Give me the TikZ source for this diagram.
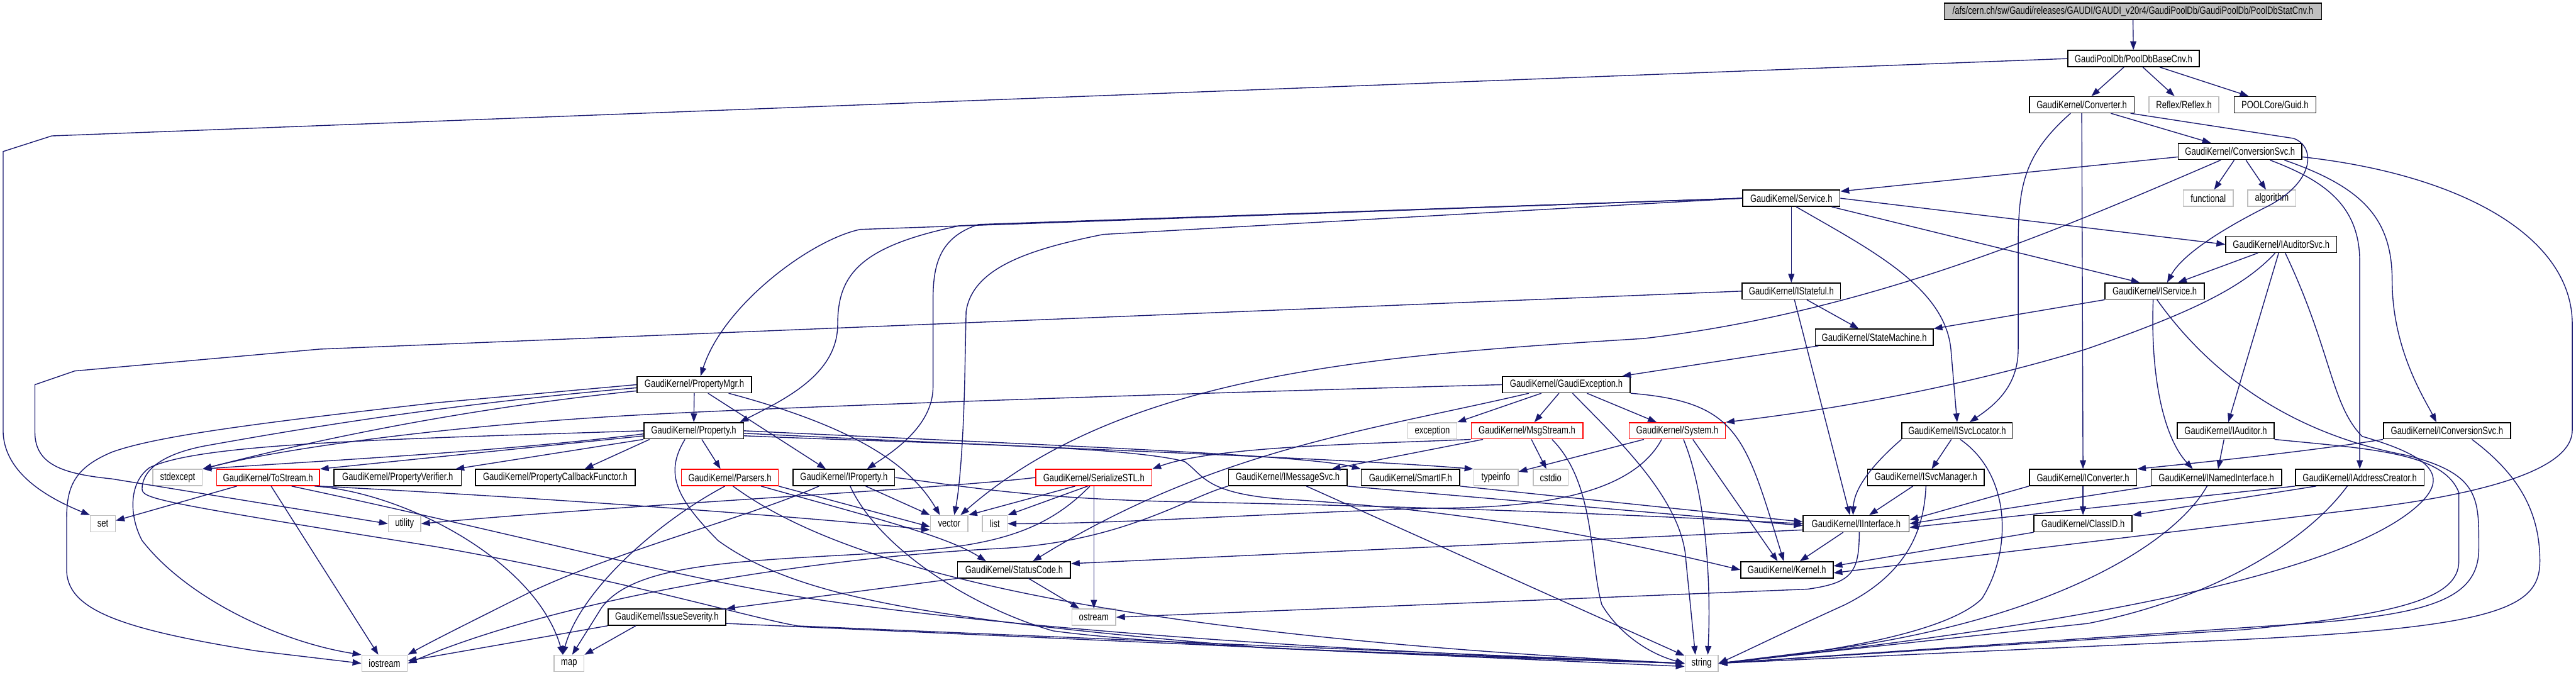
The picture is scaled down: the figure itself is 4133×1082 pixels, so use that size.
\documentclass[tikz,border=0pt]{standalone}
\usepackage{fontspec}
\newfontfamily\dotfont{Liberation Sans}[FakeStretch=0.78]
\usetikzlibrary{arrows.meta}
\definecolor{edgeblue}{RGB}{25,25,112}
\definecolor{sysgray}{RGB}{191,191,191}

\begin{document}
\begin{tikzpicture}[x=0.01cm,y=-0.01cm]
\tikzstyle{H}=[draw=black,line width=0.45pt,minimum height=0.26cm,inner sep=0pt,
font=\dotfont\fontsize{4.8}{5.5}\selectfont]
\tikzstyle{S}=[H,draw=sysgray]
\tikzstyle{R}=[H,draw=red]
\tikzstyle{L}=[draw=edgeblue,line width=0.4pt,-{Triangle[length=0.14cm,width=0.1cm]}]
\useasboundingbox (0,0) rectangle (4133,1082);

% top of the include tree
\node[H,fill=sysgray,minimum width=6.05cm] (root) at (3422,18) {/afs/cern.ch/sw/Gaudi/releases/GAUDI/GAUDI\_v20r4/GaudiPoolDb/GaudiPoolDb/PoolDbStatCnv.h};
\node[H,minimum width=2.11cm] (pbase) at (3423,94) {GaudiPoolDb/PoolDbBaseCnv.h};
\node[H,minimum width=1.68cm] (conv) at (3340,168) {GaudiKernel/Converter.h};
\node[S,minimum width=1.12cm] (reflex) at (3504,168) {Reflex/Reflex.h};
\node[H,minimum width=1.31cm] (guid) at (3650,168) {POOLCore/Guid.h};
\node[H,minimum width=1.98cm] (convsvc) at (3594,243) {GaudiKernel/ConversionSvc.h};
\node[S,minimum width=0.80cm] (functional) at (3543,318) {functional};
\node[S,minimum width=0.77cm] (algorithm) at (3645,318) {algorithm};
\node[H,minimum width=1.56cm] (service) at (2874,318) {GaudiKernel/Service.h};
\node[H,minimum width=1.78cm] (iaudsvc) at (3660,392) {GaudiKernel/IAuditorSvc.h};
\node[H,minimum width=1.58cm] (istateful) at (2874,467) {GaudiKernel/IStateful.h};
\node[H,minimum width=1.59cm] (iservice) at (3457,467) {GaudiKernel/IService.h};
\node[H,minimum width=1.89cm] (statem) at (3007,541) {GaudiKernel/StateMachine.h};
% middle rows
\node[H,minimum width=1.84cm] (propmgr) at (1114,617) {GaudiKernel/PropertyMgr.h};
\node[H,minimum width=2.05cm] (gexc) at (2513,617) {GaudiKernel/GaudiException.h};
\node[H,minimum width=1.60cm] (prop) at (1113,691) {GaudiKernel/Property.h};
\node[S,minimum width=0.79cm] (exception) at (2298,691) {exception};
\node[R,minimum width=1.79cm] (msgstream) at (2450,691) {GaudiKernel/MsgStream.h};
\node[R,minimum width=1.54cm] (system) at (2691,691) {GaudiKernel/System.h};
\node[H,minimum width=1.77cm] (isvcloc) at (3140,691) {GaudiKernel/ISvcLocator.h};
\node[H,minimum width=1.55cm] (iauditor) at (3571,691) {GaudiKernel/IAuditor.h};
\node[H,minimum width=2.04cm] (iconvsvc) at (3926,691) {GaudiKernel/IConversionSvc.h};
\node[S,minimum width=0.79cm] (stdexcept) at (285,766) {stdexcept};
\node[R,minimum width=1.65cm] (tostream) at (430,766) {GaudiKernel/ToStream.h};
\node[H,minimum width=2.04cm] (propverif) at (638,766) {GaudiKernel/PropertyVerifier.h};
\node[H,minimum width=2.56cm] (propcb) at (891,766) {GaudiKernel/PropertyCallbackFunctor.h};
\node[R,minimum width=1.55cm] (parsers) at (1171,766) {GaudiKernel/Parsers.h};
\node[H,minimum width=1.63cm] (iprop) at (1354,766) {GaudiKernel/IProperty.h};
\node[R,minimum width=1.86cm] (sstl) at (1755,766) {GaudiKernel/SerializeSTL.h};
\node[H,minimum width=1.90cm] (imsgsvc) at (2066,766) {GaudiKernel/IMessageSvc.h};
\node[H,minimum width=1.58cm] (smartif) at (2263,766) {GaudiKernel/SmartIF.h};
\node[S,minimum width=0.71cm] (typeinfo) at (2400,766) {typeinfo};
\node[S,minimum width=0.56cm] (cstdio) at (2488,766) {cstdio};
\node[H,minimum width=1.87cm] (isvcmgr) at (3090,766) {GaudiKernel/ISvcManager.h};
\node[H,minimum width=1.72cm] (iconv) at (3342,766) {GaudiKernel/IConverter.h};
\node[H,minimum width=2.09cm] (inamed) at (3556,766) {GaudiKernel/INamedInterface.h};
\node[H,minimum width=2.06cm] (iaddr) at (3786,766) {GaudiKernel/IAddressCreator.h};
% bottom rows
\node[S,minimum width=0.40cm] (set) at (165,840) {set};
\node[S,minimum width=0.52cm] (utility) at (649,840) {utility};
\node[S,minimum width=0.60cm] (vector) at (1523,840) {vector};
\node[S,minimum width=0.40cm] (list) at (1596,840) {list};
\node[H,minimum width=1.70cm] (iiface) at (2978,840) {GaudiKernel/IInterface.h};
\node[H,minimum width=1.57cm] (classid) at (3342,840) {GaudiKernel/ClassID.h};
\node[H,minimum width=1.81cm] (statcode) at (1627,914) {GaudiKernel/StatusCode.h};
\node[H,minimum width=1.48cm] (kernel) at (2867,914) {GaudiKernel/Kernel.h};
\node[S,minimum width=0.70cm] (ostream) at (1755,990) {ostream};
\node[H,minimum width=1.89cm] (issue) at (1070,990) {GaudiKernel/IssueSeverity.h};
\node[S,minimum width=0.73cm] (iostream) at (617,1064) {iostream};
\node[S,minimum width=0.48cm] (map) at (913,1064) {map};
\node[S,minimum width=0.53cm] (string) at (2730,1064) {string};

% PoolDb files
\draw[L] (root) -- (pbase);
\draw[L] (pbase) -- (conv);
\draw[L] (pbase) -- (reflex);
\draw[L] (pbase) -- (guid);
\draw[L] (pbase.west) -- (83,218) -- (5,243) -- (5,690) .. controls (5,760) and (80,800) .. (set.north west);
% Converter.h
\draw[L] (conv) -- (convsvc);
\draw[L] (conv.-10) -- (3680,222) .. controls (3715,235) and (3715,290) .. (3640,330) .. controls (3560,370) and (3500,410) .. ([xshift=0.2cm]iservice.north);
\draw[L] (conv.south) -- (iconv.north);
\draw[L] ([xshift=-0.18cm]conv.south) .. controls (3245,250) and (3238,300) .. (3238,400) -- (3238,560) .. controls (3238,620) and (3200,650) .. ([xshift=0.2cm]isvcloc.north);
% ConversionSvc.h
\draw[L] (convsvc.-175) -- (service.8);
\draw[L] ([xshift=-0.31cm]convsvc.south) .. controls (3300,370) and (3000,500) .. (2637,543) .. controls (2200,570) and (1800,600) .. ([xshift=0.18cm]vector.north);
\draw[L] (convsvc) -- (functional);
\draw[L] (convsvc) -- (algorithm);
\draw[L] ([xshift=0.48cm]convsvc.south) .. controls (3730,290) and (3786,330) .. (3786,420) -- (iaddr.north);
\draw[L] ([xshift=0.71cm]convsvc.south) .. controls (3790,300) and (3838,350) .. (3838,450) .. controls (3838,560) and (3890,640) .. ([xshift=-0.17cm]iconvsvc.north);
\draw[L] (convsvc.-5) .. controls (3950,280) and (4127,380) .. (4127,520) -- (4127,690) .. controls (4127,750) and (4000,790) .. (3800,815) -- ([yshift=-0.05cm]kernel.east);
% Service.h
\draw[L] (service) -- (istateful);
\draw[L] (service.-60) .. controls (3000,400) and (3120,460) .. (3130,560) -- (isvcloc.north);
\draw[L] (service.east) -- (iaudsvc.west);
\draw[L] (service.-12) -- (iservice.150);
\draw[L] (service.west) -- (1380,368) .. controls (1300,385) and (1160,490) .. ([xshift=0.1cm]propmgr.north);
\draw[L] (service.west) -- (1540,362) .. controls (1380,395) and (1344,440) .. (1344,520) .. controls (1344,600) and (1260,640) .. ([xshift=-0.07cm]prop.north east);
\draw[L] (service.west) -- (1570,360) .. controls (1510,380) and (1497,420) .. (1497,480) -- (1497,620) .. controls (1497,680) and (1440,720) .. ([xshift=0.37cm]iprop.north);
\draw[L] (service.west) -- (1770,376) .. controls (1650,400) and (1560,430) .. (1550,500) -- (1548,600) .. controls (1546,700) and (1540,780) .. ([xshift=0.08cm]vector.north);
% IAuditorSvc.h
\draw[L] (iaudsvc) -- (iservice);
\draw[L] (iaudsvc.-125) .. controls (3600,460) and (3520,500) .. (3347,560) .. controls (3200,605) and (3000,650) .. (system.north east);
\draw[L] (iaudsvc) -- (iauditor);
\draw[L] (iaudsvc.-65) .. controls (3740,560) and (3740,650) .. (3790,700) .. controls (3895,730) and (3925,760) .. (3890,800) .. controls (3800,900) and (3450,990) .. (string.east);
% IService.h
\draw[L] (iservice.south west) -- (statem.north east);
\draw[L] (iservice.-100) .. controls (3450,600) and (3470,700) .. ([xshift=-0.38cm]inamed.north);
\draw[L] (iservice.-75) .. controls (3560,620) and (3700,700) .. (3860,730) .. controls (3980,760) and (3977,800) .. (3977,880) .. controls (3977,960) and (3900,985) .. (3700,1000) -- (string.east);
% IStateful.h
\draw[L] (istateful) -- (statem);
\draw[L] ([xshift=0.05cm]istateful.south) -- ([xshift=-0.1cm]iiface.north);
\draw[L] (istateful.west) -- (513,560) -- (120,595) -- (56,617) -- (56,693) .. controls (56,745) and (100,760) .. (179,768) -- (utility.west);
\draw[L] (statem) -- (gexc);
% PropertyMgr.h
\draw[L] (propmgr) -- (prop);
\draw[L] ([xshift=0.22cm]propmgr.south) -- ([xshift=-0.29cm]iprop.north);
\draw[L] ([xshift=0.55cm]propmgr.south) .. controls (1372,685) and (1460,745) .. ([xshift=-0.15cm]vector.north);
\draw[L] (propmgr.west) -- (700,646) .. controls (400,680) and (250,700) .. (180,725) .. controls (120,750) and (107,780) .. (107,830) -- (107,917) .. controls (110,980) and (200,1010) .. (411,1044) -- (iostream.west);
\draw[L] ([yshift=-0.05cm]propmgr.west) .. controls (700,650) and (470,690) .. (330,715) .. controls (250,730) and (228,760) .. (228,784) .. controls (228,800) and (250,805) .. (700,877) .. controls (1000,930) and (1200,990) .. (1280,1004) -- (string.west);
\draw[L] ([yshift=-0.1cm]propmgr.west) .. controls (700,660) and (450,720) .. (stdexcept.north east);
% Property.h
\draw[L] (prop.west) .. controls (600,705) and (320,712) .. (240,750) .. controls (205,775) and (208,830) .. (228,867) .. controls (300,960) and (450,1030) .. (iostream.north west);
\draw[L] ([yshift=-0.05cm]prop.west) .. controls (800,725) and (500,740) .. (stdexcept.north east);
\draw[L] (prop) -- (tostream.north east);
\draw[L] (prop.south west) -- ([xshift=-0.1cm]propverif.north east);
\draw[L] ([xshift=0.1cm]prop.south west) -- ([xshift=0.47cm]propcb.north);
\draw[L] ([xshift=0.13cm]prop.south) -- ([xshift=-0.15cm]parsers.north);
\draw[L] ([xshift=-0.14cm]prop.south) .. controls (1065,760) and (1086,800) .. (1152,867) .. controls (1280,960) and (1500,995) .. (2040,1040) -- (string.west);
\draw[L] (prop.east) .. controls (1700,715) and (2100,730) .. (smartif.north west);
\draw[L] ([yshift=-0.04cm]prop.east) .. controls (1700,720) and (2150,735) .. (typeinfo.north west);
\draw[L] ([yshift=-0.08cm]prop.east) .. controls (1500,712) and (1800,715) .. (1900,740) .. controls (1930,760) and (1930,790) .. (2050,800) .. controls (2400,820) and (2650,880) .. (kernel.west);
% Parsers.h
\draw[L] (parsers.south east) -- ([yshift=-0.05cm]vector.west);
\draw[L] ([xshift=0.5cm]parsers.south) .. controls (1400,830) and (1520,860) .. ([xshift=-0.45cm]statcode.north);
\draw[L] (parsers.-120) .. controls (1050,840) and (930,950) .. ([xshift=-0.1cm]map.north);
\draw[L] (parsers.-70) .. controls (1300,870) and (1600,1010) .. (string.west);
% IProperty.h
\draw[L] ([xshift=0.35cm]iprop.south) -- (vector.north west);
\draw[L] ([xshift=-0.4cm]iprop.south) .. controls (1200,830) and (1000,880) .. (850,950) .. controls (750,1000) and (690,1030) .. (iostream.north east);
\draw[L] ([xshift=0.1cm]iprop.south) .. controls (1410,880) and (1560,975) .. (1690,1012) .. controls (1900,1040) and (2400,1055) .. (string.west);
\draw[L] (iprop.east) .. controls (1550,780) and (1650,800) .. (1900,805) .. controls (2400,815) and (2700,830) .. (iiface.west);
% SerializeSTL.h
\draw[L] ([xshift=-0.3cm]sstl.south) -- (vector.north east);
\draw[L] ([xshift=-0.1cm]sstl.south) -- (list.north east);
\draw[L] (sstl) -- (ostream);
\draw[L] (sstl.-115) .. controls (1680,850) and (1600,875) .. (1450,885) .. controls (1200,900) and (1020,900) .. (965,975) -- ([xshift=0.05cm]map.north);
\draw[L] (sstl.west) .. controls (1500,785) and (1000,810) .. (utility.east);
% StatusCode.h and IssueSeverity.h
\draw[L] (statcode) -- (ostream);
\draw[L] (statcode.south west) -- (issue.north east);
\draw[L] (issue.south west) -- ([yshift=0.04cm]iostream.east);
\draw[L] ([xshift=-0.5cm]issue.south) -- (map.north east);
\draw[L] ([yshift=-0.1cm]issue.east) -- ([yshift=-0.05cm]string.west);
% ToStream.h
\draw[L] ([xshift=-0.5cm]tostream.south) -- ([yshift=0.05cm]set.east);
\draw[L] ([xshift=0.05cm]tostream.south) -- ([xshift=-0.1cm]iostream.north);
\draw[L] ([xshift=0.75cm]tostream.south) .. controls (650,790) and (860,900) .. ([xshift=-0.1cm]map.north);
\draw[L] (tostream.south east) .. controls (900,800) and (1300,830) .. ([yshift=-0.1cm]vector.west);
\draw[L] (tostream.-20) .. controls (800,850) and (1100,930) .. (1300,960) .. controls (1700,1020) and (2300,1050) .. (string.west);
% GaudiException.h
\draw[L] (gexc) -- (exception);
\draw[L] (gexc) -- (msgstream);
\draw[L] (gexc) -- (system);
\draw[L] (gexc.south east) .. controls (2790,645) and (2800,700) .. ([xshift=-0.05cm]kernel.north);
\draw[L] ([xshift=0.1cm]gexc.south) .. controls (2590,700) and (2700,800) .. (2705,900) -- ([xshift=-0.1cm]string.north);
\draw[L] (gexc.west) .. controls (2000,628) and (1300,650) .. (1000,667) .. controls (700,685) and (450,720) .. (stdexcept.north east);
\draw[L] ([xshift=-0.6cm]gexc.south) .. controls (2200,690) and (1950,720) .. ([xshift=0.3cm]statcode.north);
% MsgStream.h and System.h
\draw[L] (msgstream) -- (imsgsvc);
\draw[L] (msgstream) -- (cstdio);
\draw[L] (msgstream.south west) .. controls (2200,712) and (1950,715) .. (sstl.north east);
\draw[L] ([xshift=0.4cm]msgstream.south) .. controls (2560,775) and (2550,900) .. (2570,970) .. controls (2600,1020) and (2650,1050) .. (string.west);
\draw[L] (system) -- (typeinfo);
\draw[L] ([xshift=-0.25cm]system.south) .. controls (2620,790) and (2480,815) .. (2300,815) .. controls (2000,825) and (1800,840) .. (list.east);
\draw[L] ([xshift=0.25cm]system.south) -- ([xshift=-0.15cm]kernel.north);
\draw[L] ([xshift=0.1cm]system.south) .. controls (2740,800) and (2745,950) .. ([xshift=0.1cm]string.north);
% IMessageSvc.h and SmartIF.h
\draw[L] (imsgsvc.south west) .. controls (1900,800) and (1800,870) .. (1600,880) .. controls (1300,895) and (900,960) .. (iostream.east);
\draw[L] ([xshift=0.3cm]imsgsvc.south) -- (string);
\draw[L] (imsgsvc.south east) -- ([yshift=-0.03cm]iiface.west);
\draw[L] (smartif.south east) -- ([yshift=0.03cm]iiface.west);
% service locator and manager
\draw[L] (isvcloc) -- (isvcmgr);
\draw[L] (isvcloc.south west) .. controls (3010,740) and (2975,780) .. ([xshift=-0.05cm]iiface.north);
\draw[L] ([xshift=0.05cm]isvcloc.south) .. controls (3225,760) and (3230,880) .. (3180,960) .. controls (3120,1020) and (2900,1050) .. (string.east);
\draw[L] (isvcmgr) -- (iiface);
\draw[L] (isvcmgr.south) .. controls (3087,850) and (3060,920) .. (2960,970) .. controls (2850,1020) and (2800,1045) .. (string.east);
% interfaces on the right
\draw[L] (iconv.south west) -- ([yshift=0.06cm]iiface.east);
\draw[L] (iconv) -- (classid);
\draw[L] (inamed.south west) -- (iiface.east);
\draw[L] ([xshift=-0.15cm]inamed.south) .. controls (3490,870) and (3300,990) .. (2950,1040) -- (string.east);
\draw[L] (iaddr.south west) -- ([yshift=-0.06cm]iiface.east);
\draw[L] ([xshift=-0.7cm]iaddr.south) -- (classid.north east);
\draw[L] ([xshift=-0.2cm]iaddr.south) .. controls (3700,870) and (3550,960) .. (3350,1000) -- (string.east);
\draw[L] (iauditor) -- (inamed);
\draw[L] (iauditor.south east) .. controls (3800,720) and (3920,725) .. (3945,790) -- (3945,900) .. controls (3945,960) and (3850,985) .. (3600,1010) -- (string.east);
\draw[L] (iconvsvc.south west) .. controls (3700,725) and (3500,745) .. (iconv.north east);
\draw[L] ([xshift=0.4cm]iconvsvc.south) .. controls (4040,760) and (4075,820) .. (4075,900) .. controls (4075,980) and (4000,1010) .. (3500,1030) -- (string.east);
% Kernel.h, StatusCode.h, ostream
\draw[L] (classid.south west) -- ([yshift=0.06cm]kernel.east);
\draw[L] (iiface) -- (kernel);
\draw[L] ([yshift=-0.1cm]iiface.west) -- ([yshift=0.1cm]statcode.east);
\draw[L] ([xshift=0.05cm]iiface.south) .. controls (2983,920) and (2970,935) .. (2900,945) -- (ostream.east);
\end{tikzpicture}
\end{document}
